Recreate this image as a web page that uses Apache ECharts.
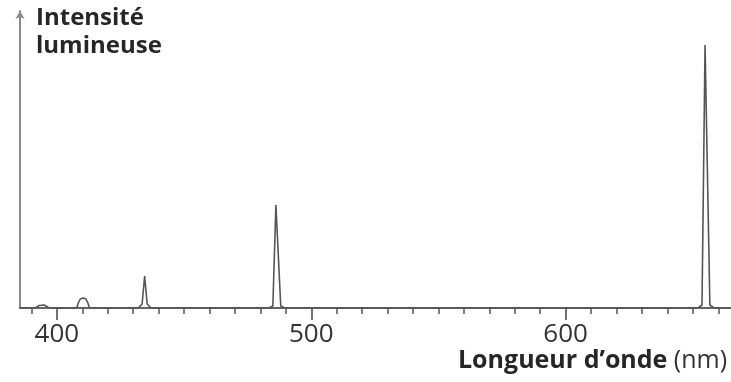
<!DOCTYPE html>
<html>
<head>
<meta charset="utf-8">
<script src="https://cdn.jsdelivr.net/npm/echarts@6/dist/echarts.min.js"></script>
<style>
  html, body { margin: 0; padding: 0; background: #fff; }
  #chart { width: 731px; height: 382px; }
</style>
</head>
<body>
<div id="chart"></div>
<script>
// longueurs d'onde (nm) et intensité relative
const wavelengths = [
  385.5, 391.5, 393, 395, 397,
  407.8, 408.4, 409.2, 410.3, 411.4, 412.2, 412.8,
  432, 433.5, 434.5, 435.5, 437,
  483.2, 484.9, 486.1, 486.7, 488, 489.6,
  652, 653.6, 654.8, 655.4, 656.7, 658.4, 665
]
const intensities = [
  0, 0, 2.5, 3, 0,
  0, 5, 9, 10, 9, 5, 0,
  0, 4, 32, 4, 0,
  0, 2, 103, 103, 2, 0,
  0, 3, 263, 263, 3, 0, 0
]
const majorTicks = [400, 500, 600]
const minorTicks = [390, 410, 420, 430, 440, 450, 460, 470, 480, 490, 510, 520, 530, 540, 550, 560, 570, 580, 590, 610, 620, 630, 640, 650, 660]

const xMin = 385.5
const xMax = 665

const chart = echarts.init(document.getElementById('chart'))

const seriesData = wavelengths.map((w, i) => [w, intensities[i]])

const option = {
  animation: false,
  textStyle: { fontFamily: 'Open Sans' },
  grid: { left: 20, right: 0, top: 11, bottom: 74 },
  xAxis: [
    {
      type: 'value',
      min: xMin,
      max: xMax,
      position: 'bottom',
      axisLine: { onZero: false, lineStyle: { color: '#333', width: 1.5 } },
      axisTick: { show: true, customValues: majorTicks, length: 12, lineStyle: { color: '#444', width: 1.5 } },
      axisLabel: { customValues: majorTicks, fontSize: 26, color: '#333', margin: 14, fontFamily: 'Open Sans' },
      splitLine: { show: false },
    },
    {
      type: 'value',
      min: xMin,
      max: xMax,
      position: 'bottom',
      axisLine: { show: false },
      axisTick: { show: true, customValues: minorTicks, length: 6, lineStyle: { color: '#555', width: 1.5 } },
      axisLabel: { show: false },
      splitLine: { show: false },
    },
  ],
  yAxis: {
    type: 'value',
    min: 0,
    max: 297,
    axisLine: {
      show: true,
      onZero: false,
      symbol: ['none', 'arrow'],
      symbolSize: [7, 8],
      lineStyle: { color: '#8a8a8a', width: 2 },
    },
    axisTick: { show: false },
    axisLabel: { show: false },
    splitLine: { show: false },
  },
  graphic: [
    {
      type: 'text',
      left: 36,
      top: 4,
      style: {
        text: 'Intensité\nlumineuse',
        font: 'bold 24px "Open Sans"',
        lineHeight: 28,
        fill: '#262626',
      },
    },
    {
      type: 'text',
      left: 458,
      top: 348,
      style: {
        text: '{b|Longueur d’onde }{r|(nm)}',
        rich: {
          b: { font: 'bold 25px "Open Sans"', fill: '#262626' },
          r: { font: '400 25px "Open Sans"', fill: '#333' },
        },
      },
    },
  ],
  series: [
    {
      type: 'line',
      xAxisIndex: 0,
      data: seriesData,
      symbol: 'none',
      lineStyle: { color: '#555', width: 1.6 },
    },
  ],
}

chart.setOption(option)
</script>
</body>
</html>
